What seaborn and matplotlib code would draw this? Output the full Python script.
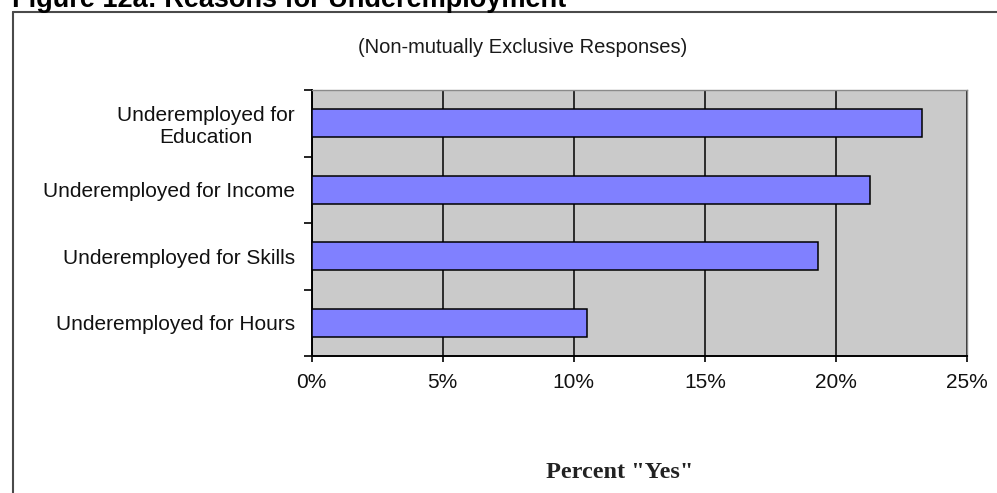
import matplotlib
matplotlib.use("Agg")
import matplotlib.pyplot as plt
import seaborn as sns
import pandas as pd
from matplotlib.lines import Line2D
from matplotlib.ticker import FuncFormatter

categories = ["Underemployed for\nEducation", "Underemployed for Income",
              "Underemployed for Skills", "Underemployed for Hours"]
values = [23.3, 21.3, 19.3, 10.5]
xticks = [0, 5, 10, 15, 20, 25]

title = "Figure 12a: Reasons for Underemployment"
subtitle = "(Non-mutually Exclusive Responses)"
xlabel = 'Percent "Yes"'

sns.set_style("white")
plt.rcParams["font.family"] = ["Liberation Sans", "DejaVu Sans"]

W, H = 997, 493
fig = plt.figure(figsize=(W / 100, H / 100), dpi=100)
fig.patch.set_facecolor("white")

L, R, T, B = 311.7, 967, 90, 356
ax = fig.add_axes([L / W, 1 - B / H, (R - L) / W, (B - T) / H])
ax.set_facecolor("#cacaca")

df = pd.DataFrame({"category": categories, "value": values})
sns.barplot(data=df, x="value", y="category", orient="h", color="#8080ff",
            saturation=1, edgecolor="black", linewidth=1.1, width=0.42, ax=ax,
            zorder=3)

ax.set_xlim(0, 25)
ax.set_ylim(3.5, -0.5)
ax.set_xticks(xticks)
ax.xaxis.set_major_formatter(FuncFormatter(lambda v, p: f"{v:.0f}%"))
ax.grid(axis="x", color="black", linewidth=1.1, zorder=1)
ax.grid(axis="y", visible=False)
ax.set_axisbelow(True)

ax.set_yticks(range(len(categories)))
ax.set_yticklabels(categories)
for lab in ax.get_yticklabels():
    lab.set_multialignment("center")
ax.set_yticks([-0.5, 0.5, 1.5, 2.5, 3.5], minor=True)
ax.tick_params(axis="y", which="major", length=0, pad=12, labelsize=15,
               labelcolor="#111111")
ax.tick_params(axis="y", which="minor", length=6, width=1.2, color="black",
               direction="out", left=True)
ax.tick_params(axis="x", which="major", length=4.5, width=1.2, color="black",
               direction="out", bottom=True, pad=8, labelsize=15,
               labelcolor="#111111")
ax.set_xlabel("")
ax.set_ylabel("")

for s in ["left", "bottom"]:
    ax.spines[s].set_color("black")
    ax.spines[s].set_linewidth(1.4)
for s in ["top", "right"]:
    ax.spines[s].set_visible(True)
    ax.spines[s].set_color("#8a8a8a")
    ax.spines[s].set_linewidth(1.0)

# outer frame (top and left edges)
fig.add_artist(Line2D([12.5 / W, 1.0], [1 - 11.5 / H, 1 - 11.5 / H],
                      transform=fig.transFigure, color="#4a4a4a", linewidth=1.5))
fig.add_artist(Line2D([13 / W, 13 / W], [1 - 11.5 / H, 0],
                      transform=fig.transFigure, color="#4a4a4a", linewidth=1.5))

fig.text(12 / W, 1 - 7 / H, title, ha="left", va="baseline",
         fontsize=19.5, fontweight="bold", color="black")
fig.text(523 / W, 1 - 47.5 / H, subtitle, ha="center", va="center",
         fontsize=14.5, color="#1a1a1a")
fig.text(620 / W, 1 - 478 / H, xlabel, ha="center", va="baseline",
         fontsize=17.5, fontweight="bold", color="#222222",
         family=["Liberation Serif", "DejaVu Serif"])

fig.savefig("out.png", dpi=100, facecolor="white")
